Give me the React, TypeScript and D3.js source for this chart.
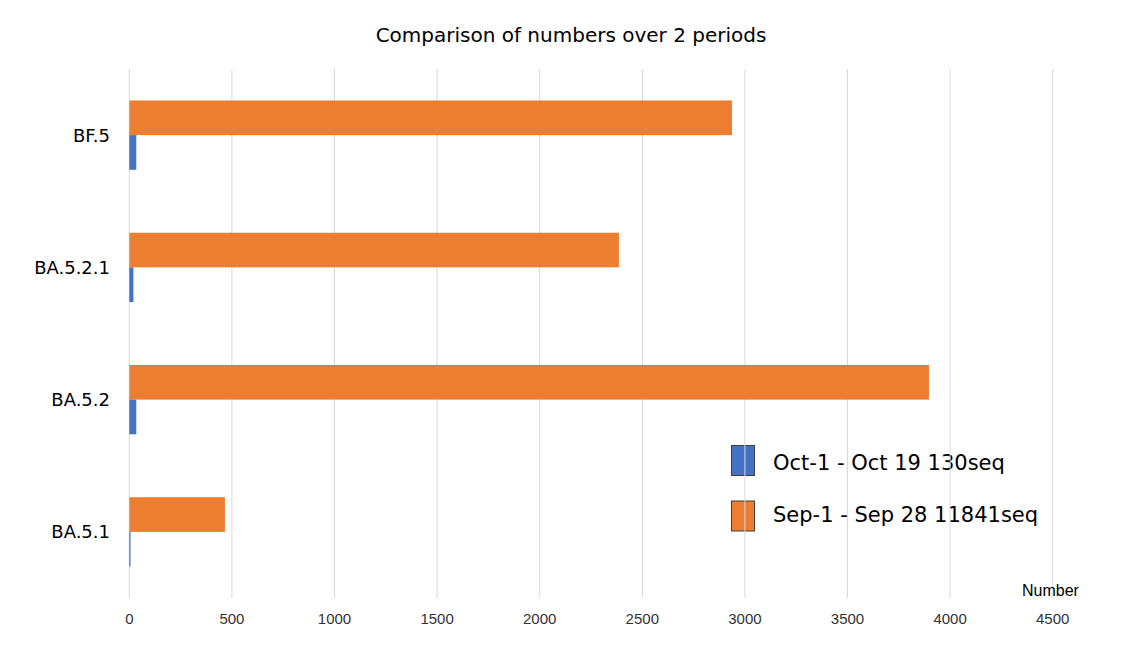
import React from "react";
import * as d3 from "d3";

const categories = ["BF.5", "BA.5.2.1", "BA.5.2", "BA.5.1"];
const octValues = [34, 20, 34, 6];
const sepValues = [2937, 2386, 3897, 466];
const xTicks = [0, 500, 1000, 1500, 2000, 2500, 3000, 3500, 4000, 4500];
const seriesNames = ["Oct-1 - Oct 19 130seq", "Sep-1 - Sep 28 11841seq"];
const seriesColors = ["#4472C4", "#ED7D31"];
const title = "Comparison of numbers over 2 periods";
const axisTitle = "Number";

const W = 1148;
const H = 656;

export default function App() {
  const x = d3.scaleLinear().domain([0, 4500]).range([129.3, 1052.7]);
  const y = d3
    .scaleBand<string>()
    .domain(categories)
    .range([69, 598])
    .paddingInner(0.476)
    .paddingOuter(0.238);
  const sub = d3
    .scaleBand<string>()
    .domain(["sep", "oct"])
    .range([0, y.bandwidth()]);

  const font = "'DejaVu Sans', sans-serif";
  const tickFont = "'Liberation Sans', Arial, sans-serif";

  return (
    <svg
      width={W}
      height={H}
      style={{ position: "absolute", left: 0, top: 0, background: "#fff" }}
    >
      <rect x={0} y={0} width={W} height={H} fill="#fff" />
      <text
        x={571}
        y={42}
        textAnchor="middle"
        fontFamily={font}
        fontSize={20}
        fill="#000"
      >
        {title}
      </text>

      {/* legend */}
      {seriesNames.map((name, i) => (
        <g key={name}>
          <rect
            x={731.5}
            y={445.5 + i * 55.5}
            width={23}
            height={30}
            fill={seriesColors[i]}
            stroke="#3f3f3f"
            strokeWidth={1}
          />
          <text
            x={773}
            y={470 + i * 51.6}
            fontFamily={font}
            fontSize={21}
            fill="#000"
          >
            {name}
          </text>
        </g>
      ))}

      {/* gridlines */}
      {xTicks.map((t) => (
        <line
          key={t}
          x1={x(t)}
          x2={x(t)}
          y1={69}
          y2={598}
          stroke="#d9d9d9"
          strokeWidth={1}
        />
      ))}

      {/* bars */}
      {categories.map((c, i) => (
        <g key={c}>
          <rect
            x={x(0)}
            y={(y(c) ?? 0) + (sub("sep") ?? 0)}
            width={x(sepValues[i]) - x(0)}
            height={sub.bandwidth()}
            fill={seriesColors[1]}
          />
          <rect
            x={x(0)}
            y={(y(c) ?? 0) + (sub("oct") ?? 0)}
            width={x(octValues[i]) - x(0)}
            height={sub.bandwidth()}
            fill={seriesColors[0]}
          />
        </g>
      ))}

      {/* x tick labels */}
      {xTicks.map((t) => (
        <text
          key={"l" + t}
          x={x(t)}
          y={624}
          textAnchor="middle"
          fontFamily={tickFont}
          fontSize={15}
          fill="#333"
        >
          {t}
        </text>
      ))}

      <text
        x={1022}
        y={596}
        fontFamily={tickFont}
        fontSize={16}
        fill="#000"
      >
        {axisTitle}
      </text>

      {/* category labels */}
      {categories.map((c) => (
        <text
          key={"c" + c}
          x={110}
          y={(y(c) ?? 0) + y.bandwidth() / 2 + 6.5}
          textAnchor="end"
          fontFamily={font}
          fontSize={18}
          fill="#000"
        >
          {c}
        </text>
      ))}
    </svg>
  );
}
